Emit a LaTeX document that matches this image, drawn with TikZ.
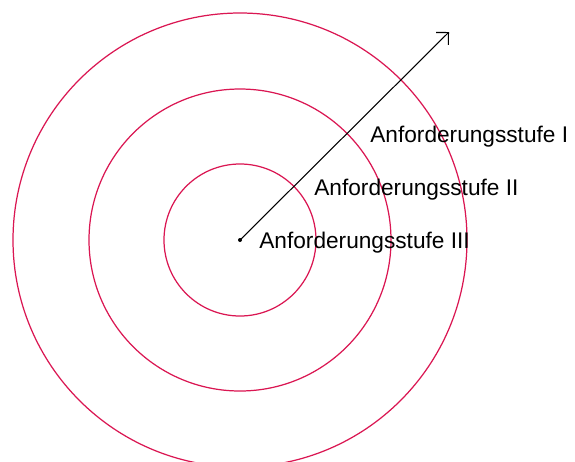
\documentclass[tikz,border=0pt]{standalone}
\usepackage{fontspec}
\setmainfont{Liberation Sans}
\usepackage{tikz}
\usetikzlibrary{arrows.meta,positioning,calc}
\definecolor{ringRed}{RGB}{218,22,82}

\begin{document}
\begin{tikzpicture}[x=0.02cm,y=-0.02cm,font=\fontsize{12.9}{14}\selectfont]
  % canvas
  \useasboundingbox (0,0) rectangle (575,461);
  \clip (0,0) rectangle (575,461);
  % rings
  \coordinate (mid) at (240,240);
  \draw[ringRed,line width=0.7pt] (mid) circle[radius=76];
  \draw[ringRed,line width=0.7pt] (mid) circle[radius=151];
  \draw[ringRed,line width=0.7pt] (mid) circle[radius=227];
  % arrow
  \coordinate (tip) at (449,32);
  \fill (mid) circle[radius=2];
  \draw[line width=0.6pt,-{Straight Barb[length=5pt,width=10pt]}] (mid) -- (tip);
  % labels
  \node[anchor=base west,inner sep=0pt] (stufeI) at (370,142) {Anforderungsstufe I};
  \node[anchor=base west,inner sep=0pt] (stufeII) at (314,195) {Anforderungsstufe II};
  \node[anchor=base west,inner sep=0pt] (stufeIII) at (259,248) {Anforderungsstufe III};
\end{tikzpicture}
\end{document}
